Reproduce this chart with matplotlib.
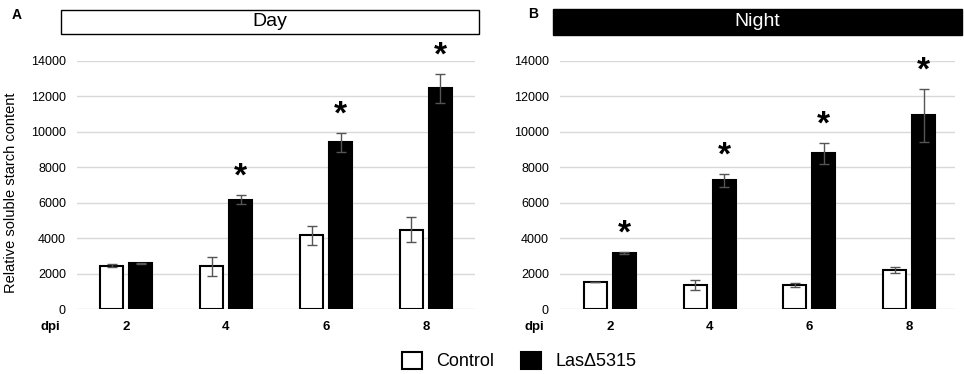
import numpy as np
import matplotlib
matplotlib.use("Agg")
import matplotlib.pyplot as plt
from matplotlib.patches import Rectangle

plt.rcParams["font.family"] = ["Liberation Sans", "DejaVu Sans"]

# donnees
dpi_labels = ["2", "4", "6", "8"]
series_names = ["Control", "LasΔ5315"]

day_control = [2450, 2400, 4150, 4480]
day_control_err = [80, 530, 560, 690]
day_las = [2580, 6180, 9400, 12450]
day_las_err = [40, 250, 540, 830]
day_signif = [False, True, True, True]

night_control = [1530, 1350, 1370, 2200]
night_control_err = [20, 270, 100, 190]
night_las = [3140, 7260, 8790, 10930]
night_las_err = [60, 375, 600, 1500]
night_signif = [True, True, True, True]

W, H = 964, 374
fig = plt.figure(figsize=(W / 100, H / 100), dpi=100)


def fx(px):
    return px / W


def fy(py):
    return 1 - py / H


def panel(ax, ctrl, ctrl_err, las, las_err, signif):
    x = np.arange(len(dpi_labels))
    w = 0.23
    off = 0.145
    err_kw = dict(ecolor="#555555", elinewidth=1, capsize=3.5, capthick=1)
    b1 = ax.bar(x - off, ctrl, w, yerr=ctrl_err, color="white",
                edgecolor="black", linewidth=1.5, error_kw=err_kw, zorder=3)
    b2 = ax.bar(x + off, las, w, yerr=las_err, color="black",
                edgecolor="black", linewidth=1.5, error_kw=err_kw, zorder=3)
    for i, s in enumerate(signif):
        if s:
            ax.annotate("*", (x[i] + off, las[i] + las_err[i]),
                        xytext=(0, 13), textcoords="offset points",
                        ha="center", va="center", fontsize=24,
                        fontweight="bold", annotation_clip=False)
    ax.set_ylim(0, 14000)
    ax.set_yticks(np.arange(0, 14001, 2000))
    ax.grid(axis="y", color="#d9d9d9", linewidth=1, zorder=0)
    ax.set_axisbelow(True)
    for sp in ax.spines.values():
        sp.set_visible(False)
    ax.set_xticks(x)
    ax.set_xticklabels(dpi_labels, fontweight="bold", fontsize=9.5)
    ax.tick_params(axis="y", length=0, pad=8, labelsize=9)
    ax.tick_params(axis="x", length=0, pad=9)
    ax.text(-0.066, -0.073, "dpi", transform=ax.transAxes, ha="center",
            va="center", fontsize=9.5, fontweight="bold")
    return b1, b2


axA = fig.add_axes([fx(77), fy(309), fx(475) - fx(77), fy(61) - fy(309)])
axA.set_xlim(-0.49, 3.49)
bars = panel(axA, day_control, day_control_err, day_las, day_las_err, day_signif)
axA.set_ylabel("Relative soluble starch content", fontsize=10.5)
axA.yaxis.set_label_coords(-0.148, 0.47)

axB = fig.add_axes([fx(560), fy(309), fx(955) - fx(560), fy(61) - fy(309)])
axB.set_xlim(-0.5, 3.46)
panel(axB, night_control, night_control_err, night_las, night_las_err, night_signif)

# bandeaux Day / Night
fig.add_artist(Rectangle((fx(61), fy(34)), fx(479) - fx(61), fy(10) - fy(34),
                         transform=fig.transFigure, facecolor="white",
                         edgecolor="black", linewidth=1))
fig.text(fx(270), fy(22), "Day", ha="center", va="center", fontsize=14)
fig.add_artist(Rectangle((fx(553), fy(35)), fx(962) - fx(553), fy(9) - fy(35),
                         transform=fig.transFigure, facecolor="black",
                         edgecolor="black", linewidth=1))
fig.text(fx(757), fy(22), "Night", ha="center", va="center", fontsize=14,
         color="white")

fig.text(fx(12), fy(15), "A", ha="left", va="center", fontsize=10, fontweight="bold")
fig.text(fx(528), fy(14), "B", ha="left", va="center", fontsize=10, fontweight="bold")

fig.legend(bars, series_names, loc="center", bbox_to_anchor=(fx(519), fy(361)),
           ncol=2, frameon=False, fontsize=13, handlelength=1.1,
           handleheight=1.1, handletextpad=0.8, columnspacing=1.5)

fig.savefig("out.png", dpi=100)
